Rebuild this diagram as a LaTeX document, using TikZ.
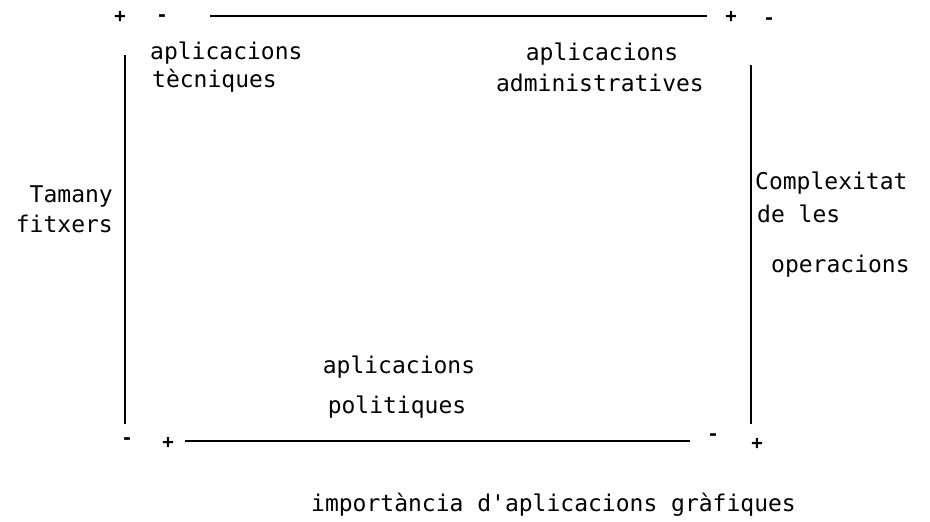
\documentclass[tikz,border=0pt]{standalone}
\usepackage{fontspec}
\newfontfamily\labfont{DejaVu Sans Mono}
\newfontfamily\sgnfont{DejaVu Sans Mono Bold}
\begin{document}
\begin{tikzpicture}[x=1pt,y=-1pt,
  lab/.style={inner sep=0pt,font=\labfont\fontsize{23}{28}\selectfont},
  sgn/.style={inner sep=0pt,font=\sgnfont\fontsize{19}{22}\selectfont},
  axis/.style={line width=2pt}]
\useasboundingbox[fill=white] (0,0) rectangle (930,522);
% axis end points
\coordinate (tl) at (210,16);  \coordinate (tr) at (707,16);
\coordinate (bl) at (185,441); \coordinate (br) at (690,441);
\coordinate (lt) at (125,55);  \coordinate (lb) at (125,424);
\coordinate (rt) at (751,65);  \coordinate (rb) at (751,424);
\draw[axis] (tl) -- (tr);
\draw[axis] (bl) -- (br);
\draw[axis] (lt) -- (lb);
\draw[axis] (rt) -- (rb);
% signs
\node[sgn] (s1) at (120,17) {+};
\node[sgn] (s2) at (162,18) {-};
\node[sgn] (s3) at (731,17) {+};
\node[sgn] (s4) at (769,21) {-};
\node[sgn] (s5) at (127,441) {-};
\node[sgn] (s6) at (168,443) {+};
\node[sgn] (s7) at (713,437) {-};
\node[sgn] (s8) at (757,444) {+};
% labels
\node[lab,anchor=base west] (tec1) at (150,59) {aplicacions};
\node[lab,anchor=base west] (tec2) at (152,87) {tècniques};
\node[lab,anchor=base] (adm1) at (602,60) {aplicacions};
\node[lab,anchor=base] (adm2) at (600,91) {administratives};
\node[lab,anchor=base] (pol1) at (399,373) {aplicacions};
\node[lab,anchor=base] (pol2) at (397,413) {politiques};
\node[lab,anchor=base east] (tam1) at (113,202) {Tamany};
\node[lab,anchor=base east] (tam2) at (113,232) {fitxers};
\node[lab,anchor=base west] (com1) at (755,189) {Complexitat};
\node[lab,anchor=base west] (com2) at (757,222) {de les};
\node[lab,anchor=base west] (com3) at (771,272) {operacions};
\node[lab,anchor=base west] (imp) at (311,511) {importància d'aplicacions gràfiques};
\end{tikzpicture}
\end{document}
